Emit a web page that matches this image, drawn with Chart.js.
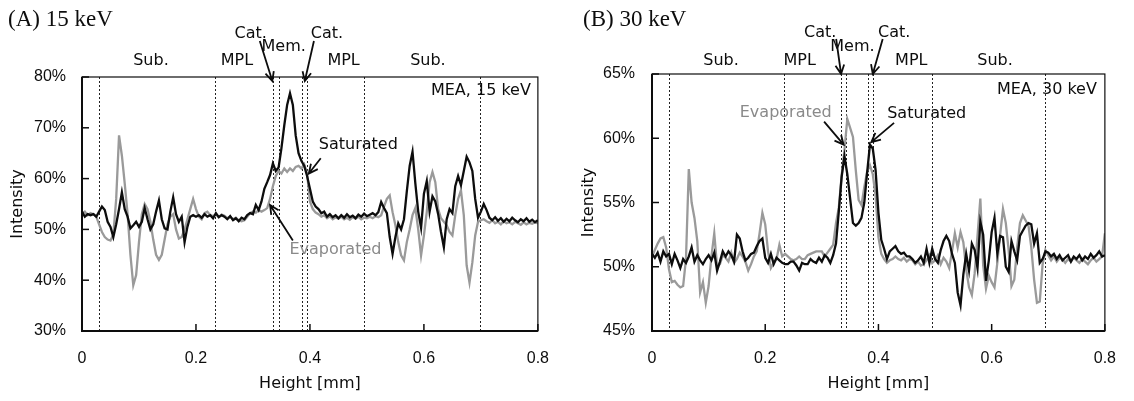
<!DOCTYPE html>
<html>
<head>
<meta charset="utf-8">
<script src="https://cdn.jsdelivr.net/npm/chart.js@4.4.1/dist/chart.umd.min.js"></script>
<style>
html, body { margin: 0; padding: 0; background: #fff; }
#wrap { position: relative; width: 1134px; height: 401px; }
canvas { position: absolute; top: 0; }
#chartA { left: 0; }
#chartB { left: 567px; }
</style>
</head>
<body>
<div id="wrap">
  <canvas id="chartA" width="567" height="401"></canvas>
  <canvas id="chartB" width="567" height="401"></canvas>
</div>
<script>
// height positions [mm]
var heights = [
  0, 0.005, 0.01, 0.015, 0.02, 0.025, 0.03, 0.035, 0.04, 0.045,
  0.05, 0.055, 0.06, 0.065, 0.07, 0.075, 0.08, 0.085, 0.09, 0.095,
  0.1, 0.105, 0.11, 0.115, 0.12, 0.125, 0.13, 0.135, 0.14, 0.145,
  0.15, 0.155, 0.16, 0.165, 0.17, 0.175, 0.18, 0.185, 0.19, 0.195,
  0.2, 0.205, 0.21, 0.215, 0.22, 0.225, 0.23, 0.235, 0.24, 0.245,
  0.25, 0.255, 0.26, 0.265, 0.27, 0.275, 0.28, 0.285, 0.29, 0.295,
  0.3, 0.305, 0.31, 0.315, 0.32, 0.325, 0.33, 0.335, 0.34, 0.345,
  0.35, 0.355, 0.36, 0.365, 0.37, 0.375, 0.38, 0.385, 0.39, 0.395,
  0.4, 0.405, 0.41, 0.415, 0.42, 0.425, 0.43, 0.435, 0.44, 0.445,
  0.45, 0.455, 0.46, 0.465, 0.47, 0.475, 0.48, 0.485, 0.49, 0.495,
  0.5, 0.505, 0.51, 0.515, 0.52, 0.525, 0.53, 0.535, 0.54, 0.545,
  0.55, 0.555, 0.56, 0.565, 0.57, 0.575, 0.58, 0.585, 0.59, 0.595,
  0.6, 0.605, 0.61, 0.615, 0.62, 0.625, 0.63, 0.635, 0.64, 0.645,
  0.65, 0.655, 0.66, 0.665, 0.67, 0.675, 0.68, 0.685, 0.69, 0.695,
  0.7, 0.705, 0.71, 0.715, 0.72, 0.725, 0.73, 0.735, 0.74, 0.745,
  0.75, 0.755, 0.76, 0.765, 0.77, 0.775, 0.78, 0.785, 0.79, 0.795,
  0.8
];

// (A) 15 keV, intensity [%]
var saturated15 = [
  53.5, 52.5, 53, 52.8, 53, 52.5, 53.5, 54.5, 53.8, 51.5,
  50.5, 48.5, 51, 54, 57.3, 54, 52.5, 50.2, 50.8, 51.5,
  50.5, 51.5, 54.2, 52, 50, 51, 53.5, 55.7, 52, 50.2,
  50, 53.5, 56.3, 53, 51.5, 52.5, 47.5, 50.5, 52.5, 52.8,
  52.5, 52.8, 52.3, 53, 52.5, 52.8, 52.2, 53.2, 52.4, 52.8,
  52.5, 52, 52.6, 51.8, 52.2, 51.6, 52.3, 52, 52.8, 53.2,
  53, 54.8, 53.8, 55.5, 58, 59.3, 60.7, 63, 61.5, 62.2,
  66, 70.5, 74.5, 76.8, 74.5, 68.5, 65, 63.5, 62.5, 60.5,
  58, 55.5, 54.5, 54, 53.2, 53.5, 52.5, 53, 52.4, 52.8,
  52.2, 52.8, 52.3, 53, 52.4, 52.7, 52.2, 52.9, 52.5, 53.1,
  52.6, 52.9, 53.2, 52.8, 53.4, 55.4, 54.2, 53.2, 48.5, 45.2,
  48.5, 51.2, 50, 52, 57.5, 62.5, 65.3, 59, 53.5, 50.3,
  57, 59.5, 53.5, 56.5, 55.5, 53, 49.5, 46.5, 52, 54,
  53.2, 58.5, 60.5, 58.7, 61.5, 64.3, 63.2, 61.5, 56, 52.3,
  53.5, 55, 53.8, 52.3, 51.8, 52.4, 51.7, 52.2, 51.5, 52.1,
  51.6, 52.3, 51.8, 51.4, 52, 51.6, 52.2, 51.5, 51.9, 51.4,
  51.8
];
var evaporated15 = [
  53, 53.5, 52.8, 53.2, 53, 52.5, 51, 49.5, 48.5, 48,
  47.8, 49, 56, 68.5, 64.5, 59, 53, 45, 39, 41,
  47.5, 53, 55, 54, 51.5, 48, 45, 44, 45, 48,
  51, 52.5, 53, 50, 48.2, 48.5, 50, 52, 54, 56,
  54, 52.5, 52, 53.2, 53.5, 52.8, 52.6, 53, 52.4, 52.9,
  52.7, 52.2, 52.5, 52, 52.3, 51.8, 51.6, 51.8, 52.5, 53.2,
  53.5, 53.3, 53.8, 53.5, 53.8, 54.2, 56, 58.5, 60.5, 61.5,
  61, 62, 61.3, 62, 61.5, 62.3, 62.5, 62, 62.8, 61,
  55.5, 54, 53.3, 53, 52.5, 52.8, 52.2, 52.6, 52, 52.4,
  52.1, 52.5, 52, 52.3, 51.9, 52.4, 52.1, 52.5, 52, 52.3,
  52.2, 52.5, 52.2, 52.6, 52.4, 52.8, 54.5, 56, 56.7, 53.4,
  50.8, 47.5, 44.9, 43.9, 47.5, 50, 52.8, 54.2, 50, 44.9,
  48.8, 53.4, 59.3, 61.3, 59.3, 54, 52.2, 51.5, 50.8, 49.5,
  48.8, 52.8, 56, 57.7, 52.8, 42.9, 39.5, 43.5, 48.8, 51.5,
  51.8, 52, 51.6, 51.3, 51.8, 51.2, 51.5, 51, 51.6, 51.2,
  51.4, 51, 51.5, 51.2, 50.9, 51.4, 51, 51.3, 51.1, 51.4,
  51.2
];

// (B) 30 keV, intensity [%]
var saturated30 = [
  51, 50.7, 51.1, 50.4, 51.2, 50.8, 51, 50.2, 51, 50.5,
  49.9, 50.6, 50.3, 50.8, 51.5, 50.4, 50.9, 50.5, 50.2, 50.6,
  50.9, 50.5, 51.1, 49.7, 50.4, 51.2, 50.8, 51.2, 50.9, 50.4,
  52.5, 52.2, 51.2, 50.5, 50.7, 51, 51.1, 51.6, 52, 52.2,
  50.7, 50.3, 51, 50.2, 50.7, 50.5, 50.3, 50.2, 50.2, 50.4,
  50.4, 50.1, 49.7, 50.3, 50.2, 50.2, 50.6, 50.4, 50.3, 50.7,
  50.4, 50.9, 50.7, 50.3, 50.9, 51.8, 54.3, 57, 58.6, 57.2,
  55.3, 53.4, 53.2, 53.4, 53.8, 55, 57.3, 59.5, 59.2, 57.5,
  54.2, 52.1, 51.4, 50.6, 51.2, 51.4, 51.6, 51.2, 51, 51.1,
  50.8, 50.8, 50.6, 50.3, 50.5, 50.8, 50.3, 51.4, 50.3, 51.4,
  50.6, 50.3, 51.3, 52, 52.4, 52, 51, 50.3, 48, 47,
  49.4, 51, 49.7, 51.8, 51.3, 49.9, 53.5, 52.5, 48.9, 50.5,
  52.7, 53.8, 51, 52.4, 52.3, 50, 49.6, 52, 51.2, 50.5,
  52.4, 52.8, 53.2, 53.4, 53.3, 51.8, 52.6, 50.3, 50.6, 51.2,
  51.1, 50.8, 51, 50.6, 50.9, 50.5, 50.7, 50.9, 50.4, 50.8,
  50.6, 50.9, 50.5, 50.8, 50.6, 51, 50.7, 50.9, 51.2, 50.8,
  50.9
];
var evaporated30 = [
  50.8, 51.3, 51.8, 52.2, 52.3, 51.5, 49.8, 48.8, 48.9, 48.6,
  48.4, 48.5, 50.6, 57.6, 55, 53.8, 52, 48, 48.8, 47.2,
  48.5, 50.8, 52.6, 50, 50.2, 50.9, 50.7, 50.4, 51.1, 50.3,
  50.6, 51.1, 50.8, 50.4, 49.7, 50.2, 50.8, 51.2, 52.6, 54.2,
  53.3, 51.2, 49.9, 50.3, 50.6, 51.7, 50.8, 51, 50.8, 50.6,
  50.5, 50.6, 50.8, 50.6, 50.6, 50.9, 51, 51.1, 51.2, 51.2,
  51.2, 50.8, 51.1, 51.4, 51.7, 53.4, 54.6, 57.1, 59.1, 61.5,
  60.8, 60.1, 57.5, 55.2, 54.8, 56.2, 57.4, 57.9, 57.2, 55.5,
  52.3, 51, 50.6, 50.3, 50.5, 50.6, 50.8, 50.6, 50.5, 50.7,
  50.4, 50.6, 50.5, 50.2, 50.4, 50.1, 50.2, 50.5, 50.9, 50.3,
  50.5, 50.9, 50.2, 50.7, 50.4, 49.9, 51.2, 52.6, 51.5, 52.7,
  51.9, 49.8, 48.4, 47.8, 49.5, 52.4, 55.3, 50.1, 48.3, 49.3,
  48.8, 48.4, 50.3, 52.5, 54.5, 53.4, 51.3, 48.5, 49, 51.5,
  53.4, 54, 53.6, 53.2, 51.5, 49, 47.2, 47.3, 50.2, 51.3,
  50.9, 50.5, 50.8, 50.4, 50.7, 50.6, 50.3, 50.6, 50.4, 50.7,
  50.5, 50.3, 50.6, 50.4, 50.2, 50.5, 50.7, 50.4, 50.6, 50.8,
  52.6
];

var ticksX = [0, 0.2, 0.4, 0.6, 0.8];
var ticks15 = [30, 40, 50, 60, 70, 80];
var ticks30 = [45, 50, 55, 60, 65];
// layer boundaries [mm]
var bounds15 = [0.030, 0.234, 0.335, 0.345, 0.386, 0.394, 0.495, 0.698];
var bounds30 = [0.030, 0.233, 0.334, 0.343, 0.382, 0.390, 0.494, 0.694];

var negro = "#0d0d0d";
var gris = "#9a9a9a";
var grisTexto = "#8a8a8a";
var fuenteTexto = "'DejaVu Sans', sans-serif";
var fuenteTicks = "'Liberation Sans', Arial, sans-serif";

function puntos(valores) {
  return heights.map(function (h, i) { return { x: h, y: valores[i] }; });
}

// pixel position of an annotation anchor: x in mm, y as value or offset from plot top
function posicion(chart, p) {
  var a = chart.chartArea;
  var px = chart.scales.x.getPixelForValue(p.x) + (p.dx || 0);
  var py = (p.top !== undefined) ? a.top + p.top : chart.scales.y.getPixelForValue(p.y);
  return [px, py];
}

var decoracion = {
  id: 'decoracion',
  beforeDatasetsDraw: function (chart, args, opts) {
    var ctx = chart.ctx, a = chart.chartArea, x = chart.scales.x;
    ctx.save();
    ctx.strokeStyle = '#222';
    ctx.lineWidth = 1;
    ctx.setLineDash([2, 2]);
    opts.bounds.forEach(function (b) {
      var px = Math.round(x.getPixelForValue(b)) + 0.5;
      ctx.beginPath();
      ctx.moveTo(px, a.top);
      ctx.lineTo(px, a.bottom);
      ctx.stroke();
    });
    ctx.restore();
  },
  afterDraw: function (chart, args, opts) {
    var ctx = chart.ctx, a = chart.chartArea;
    var x = chart.scales.x, y = chart.scales.y;
    ctx.save();
    // marco
    ctx.strokeStyle = negro;
    ctx.lineWidth = 1.2;
    ctx.strokeRect(a.left, a.top, a.right - a.left, a.bottom - a.top);
    ctx.lineWidth = 2;
    ctx.beginPath();
    ctx.moveTo(a.left, a.top);
    ctx.lineTo(a.left, a.bottom);
    ctx.lineTo(a.right, a.bottom);
    ctx.stroke();
    // ticks hacia dentro
    ctx.lineWidth = 1.5;
    ticksX.forEach(function (v) {
      var px = x.getPixelForValue(v);
      ctx.beginPath(); ctx.moveTo(px, a.bottom); ctx.lineTo(px, a.bottom - 7); ctx.stroke();
    });
    opts.ticksY.forEach(function (v) {
      var py = y.getPixelForValue(v);
      ctx.beginPath(); ctx.moveTo(a.left, py); ctx.lineTo(a.left + 7, py); ctx.stroke();
    });
    // titulo del panel
    ctx.fillStyle = negro;
    ctx.font = "23px 'Liberation Serif', 'Times New Roman', serif";
    ctx.textAlign = 'left';
    ctx.textBaseline = 'middle';
    ctx.fillText(opts.title, opts.titleLeft, 20);
    // textos
    ctx.font = "16px " + fuenteTexto;
    opts.labels.forEach(function (l) {
      var p = posicion(chart, l);
      ctx.fillStyle = l.color || negro;
      ctx.textAlign = l.align || 'center';
      ctx.fillText(l.text, p[0], p[1]);
    });
    // flechas
    ctx.strokeStyle = negro;
    ctx.lineWidth = 1.8;
    opts.arrows.forEach(function (f) {
      var p0 = posicion(chart, f.from), p1 = posicion(chart, f.to);
      var ang = Math.atan2(p1[1] - p0[1], p1[0] - p0[0]);
      ctx.beginPath();
      ctx.moveTo(p0[0], p0[1]);
      ctx.lineTo(p1[0], p1[1]);
      ctx.moveTo(p1[0] - 10 * Math.cos(ang - 0.45), p1[1] - 10 * Math.sin(ang - 0.45));
      ctx.lineTo(p1[0], p1[1]);
      ctx.lineTo(p1[0] - 10 * Math.cos(ang + 0.45), p1[1] - 10 * Math.sin(ang + 0.45));
      ctx.stroke();
    });
    ctx.restore();
  }
};

function crearGrafica(id, saturado, evaporado, ticksY, ajustes) {
  return new Chart(document.getElementById(id), {
    type: 'line',
    data: {
      datasets: [{
        label: 'Saturated',
        data: puntos(saturado),
        borderColor: negro,
        borderWidth: 2.3,
        pointRadius: 0,
        tension: 0
      }, {
        label: 'Evaporated',
        data: puntos(evaporado),
        borderColor: gris,
        borderWidth: 2.3,
        pointRadius: 0,
        tension: 0
      }]
    },
    options: {
      responsive: false,
      animation: false,
      devicePixelRatio: 1,
      layout: { padding: { left: 0, right: ajustes.padRight, top: ajustes.padTop, bottom: 0 } },
      plugins: {
        legend: { display: false },
        tooltip: { enabled: false },
        decoracion: ajustes
      },
      scales: {
        x: {
          type: 'linear',
          min: 0,
          max: 0.8,
          afterBuildTicks: function (s) { s.ticks = ticksX.map(function (v) { return { value: v }; }); },
          afterFit: function (s) { s.height = 70; },
          grid: { display: false, drawTicks: false },
          border: { display: false },
          ticks: {
            color: negro, padding: 18, maxRotation: 0,
            font: { family: fuenteTicks, size: 16 },
            callback: function (v) { return String(v); }
          },
          title: {
            display: true, text: 'Height [mm]', color: negro,
            font: { family: fuenteTexto, size: 16 },
            padding: { top: 0, bottom: 8 }
          }
        },
        y: {
          type: 'linear',
          min: ticksY[0],
          max: ticksY[ticksY.length - 1],
          afterBuildTicks: function (s) { s.ticks = ticksY.map(function (v) { return { value: v }; }); },
          afterFit: function (s) { s.width = ajustes.yWidth; },
          grid: { display: false, drawTicks: false },
          border: { display: false },
          ticks: {
            color: negro, padding: ajustes.yPad,
            font: { family: fuenteTicks, size: 16 },
            callback: function (v) { return v + '%'; }
          },
          title: {
            display: true, text: 'Intensity', color: negro,
            font: { family: fuenteTexto, size: 16 },
            padding: { top: ajustes.yTitlePad, bottom: 0 }
          }
        }
      }
    },
    plugins: [decoracion]
  });
}

var graficaA = crearGrafica('chartA', saturated15, evaporated15, ticks15, {
  padRight: 21, padTop: 77, yWidth: 82, yPad: 16, yTitlePad: 8,
  ticksY: ticks15, bounds: bounds15,
  title: '(A) 15 keV', titleLeft: 8,
  labels: [
    { text: 'Sub.', x: 0.121, top: -16 },
    { text: 'MPL', x: 0.272, top: -16 },
    { text: 'MPL', x: 0.459, top: -16 },
    { text: 'Sub.', x: 0.607, top: -16 },
    { text: 'Cat.', x: 0.296, top: -43 },
    { text: 'Mem.', x: 0.354, top: -30 },
    { text: 'Cat.', x: 0.430, top: -43 },
    { text: 'MEA, 15 keV', x: 0.8, dx: -7, top: 14, align: 'right' },
    { text: 'Saturated', x: 0.4155, y: 66.6, align: 'left' },
    { text: 'Evaporated', x: 0.364, y: 45.9, align: 'left', color: grisTexto }
  ],
  arrows: [
    { from: { x: 0.312, top: -36 }, to: { x: 0.334, top: 4 } },
    { from: { x: 0.407, top: -36 }, to: { x: 0.391, top: 4 } },
    { from: { x: 0.419, y: 64.0 }, to: { x: 0.398, y: 61.0 } },
    { from: { x: 0.370, y: 47.8 }, to: { x: 0.330, y: 54.8 } }
  ]
});

var graficaB = crearGrafica('chartB', saturated30, evaporated30, ticks30, {
  padRight: 18, padTop: 74, yWidth: 85, yPad: 17, yTitlePad: 12,
  ticksY: ticks30, bounds: bounds30,
  title: '(B) 30 keV', titleLeft: 16,
  labels: [
    { text: 'Sub.', x: 0.122, top: -13 },
    { text: 'MPL', x: 0.261, top: -13 },
    { text: 'MPL', x: 0.458, top: -13 },
    { text: 'Sub.', x: 0.606, top: -13 },
    { text: 'Cat.', x: 0.297, top: -41 },
    { text: 'Mem.', x: 0.354, top: -27 },
    { text: 'Cat.', x: 0.428, top: -41 },
    { text: 'MEA, 30 keV', x: 0.8, dx: -8, top: 16, align: 'right' },
    { text: 'Saturated', x: 0.4155, y: 61.9, align: 'left' },
    { text: 'Evaporated', x: 0.155, y: 62.0, align: 'left', color: grisTexto }
  ],
  arrows: [
    { from: { x: 0.3253, top: -35 }, to: { x: 0.334, top: 0 } },
    { from: { x: 0.4075, top: -35 }, to: { x: 0.390, top: 0 } },
    { from: { x: 0.4276, y: 61.2 }, to: { x: 0.3874, y: 59.7 } },
    { from: { x: 0.304, y: 61.3 }, to: { x: 0.3385, y: 59.5 } }
  ]
});
</script>
</body>
</html>
